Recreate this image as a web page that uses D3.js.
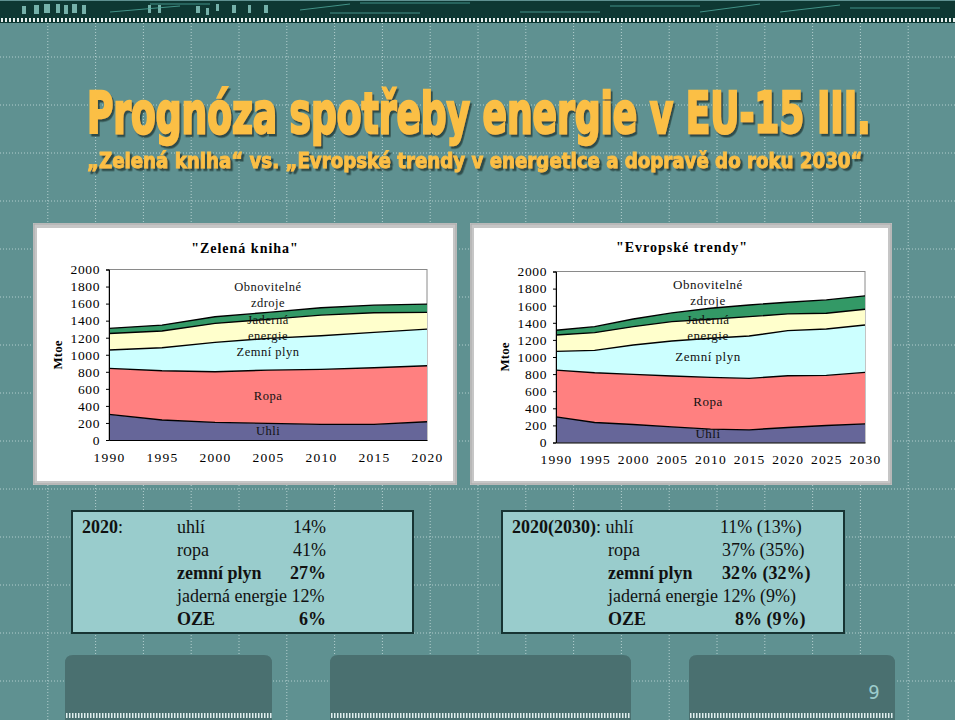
<!DOCTYPE html>
<html><head><meta charset="utf-8">
<script src="https://cdn.jsdelivr.net/npm/d3@7/dist/d3.min.js"></script>
<style>html,body{margin:0;padding:0;background:#fff;}svg{display:block;}</style>
</head><body>
<script>
// ---------- DATA ----------
const yearsA = [1990, 1995, 2000, 2005, 2010, 2015, 2020];
const coalA = [300, 234, 207, 195, 183, 183, 214];
const oilA = [540, 578, 593, 625, 645, 665, 657];
const gasA = [215, 270, 345, 372, 395, 414, 430];
const nuclearA = [195, 196, 223, 223, 242, 230, 196];
const renewA = [59, 70, 77, 82, 86, 90, 97];

const yearsB = [1990, 1995, 2000, 2005, 2010, 2015, 2020, 2025, 2030];
const coalB = [300, 234, 211, 183, 156, 148, 176, 199, 218];
const oilB = [547, 582, 586, 594, 606, 602, 605, 586, 602];
const gasB = [219, 262, 343, 410, 457, 496, 527, 543, 555];
const nuclearB = [192, 207, 215, 227, 223, 226, 196, 184, 184];
const renewB = [55, 70, 90, 102, 128, 137, 136, 156, 156];

const yTicks = [0, 200, 400, 600, 800, 1000, 1200, 1400, 1600, 1800, 2000];
const seriesKeys = ["coal", "oil", "gas", "nuclear", "renew"];
const seriesColors = ["#666699", "#FF8080", "#CCFFFF", "#FFFFCC", "#339966"];

const titleMain = "Prognóza spotřeby energie v EU-15 III.";
const titleSub = "„Zelená kniha“ vs. „Evropské trendy v energetice a dopravě do roku 2030“";
const chartTitleA = "\"Zelená kniha\"";
const chartTitleB = "\"Evropské trendy\"";
const yAxisTitle = "Mtoe";
const areaLabels = ["Obnovitelné", "zdroje", "Jaderná", "energie", "Zemní plyn", "Ropa", "Uhli"];

const boxLabels = ["uhlí", "ropa", "zemní plyn", "jaderná energie", "OZE"];
const boxPctA = ["14%", "41%", "27%", "12%", "6%"];
const boxPctB = ["11% (13%)", "37% (35%)", "32% (32%)", "12% (9%)", "8% (9%)"];
const boxBold = [false, false, true, false, true];
const boxHeadA = "2020";
const boxHeadB = "2020(2030)";
const pageNumber = "9";

// ---------- SVG ----------
const W = 960, H = 720;
const svg = d3.select("body").append("svg").attr("width", W).attr("height", H);
const serif = "'Liberation Serif','Times New Roman',serif";

const defs = svg.append("defs");
const f = defs.append("filter").attr("id", "shadow").attr("x", "-5%").attr("y", "-20%").attr("width", "110%").attr("height", "150%");
f.append("feDropShadow").attr("dx", 2.5).attr("dy", 2.5).attr("stdDeviation", 0.4).attr("flood-color", "#2E4B49").attr("flood-opacity", 1);

// background
svg.append("rect").attr("x", 0).attr("y", 0).attr("width", 955).attr("height", H).attr("fill", "#5F9191");

// dotted grid
const grid = svg.append("g").attr("stroke", "#cfe3e3").attr("stroke-width", 1).attr("stroke-dasharray", "1,2").attr("opacity", 0.75);
d3.range(47.8, 955, 47.8).forEach(x => grid.append("line").attr("x1", x).attr("x2", x).attr("y1", 23).attr("y2", H));
d3.range(57, H, 48).forEach(y => grid.append("line").attr("x1", 0).attr("x2", 955).attr("y1", y).attr("y2", y));

// top strip
svg.append("rect").attr("x", 0).attr("y", 1).attr("width", 955).attr("height", 22).attr("fill", "#0E3833");
const deco = svg.append("g").attr("fill", "#8fd0c8").attr("opacity", 0.8);
[[22,6,4,8],[34,5,5,9],[44,4,6,9],[56,4,4,9],[64,5,4,9],[72,4,5,9],[82,5,4,9],[148,5,3,8],[158,5,3,8],[196,6,4,7],[206,8,3,7],[216,4,3,7],[232,5,4,8],[248,5,3,8],[264,5,4,8]].forEach(d =>
  deco.append("rect").attr("x", d[0]).attr("y", d[1]).attr("width", d[2]).attr("height", d[3]));
const decoL = svg.append("g").attr("stroke", "#4fa89c").attr("stroke-width", 1).attr("fill", "none").attr("opacity", 0.8);
[[110,12,180,6],[150,4,210,4],[300,10,350,4],[330,13,420,13],[360,3,470,3],[520,12,600,12],[610,6,700,6],[700,12,760,4],[780,12,840,5],[850,8,940,8]].forEach(d =>
  decoL.append("line").attr("x1", d[0]).attr("y1", d[1]).attr("x2", d[2]).attr("y2", d[3]));
const perf = svg.append("g").attr("fill", "#e8f0ee");
d3.range(1, 955, 4).forEach(x => perf.append("rect").attr("x", x).attr("y", 18).attr("width", 2).attr("height", 4));

// titles: condensed by horizontal scaling to the measured width
function shadowText(txt, x, y, size, len) {
  const t = svg.append("text").attr("x", 0).attr("y", 0)
    .attr("font-family", "'Liberation Sans Narrow','DejaVu Sans Condensed','Arial Narrow',sans-serif")
    .attr("font-weight", "bold").attr("font-size", size)
    .attr("fill", "#FBBF45").attr("stroke", "#FBBF45").attr("stroke-width", size * 0.04)
    .attr("filter", "url(#shadow)").text(txt);
  const w = t.node().getComputedTextLength();
  t.attr("transform", `translate(${x},${y}) scale(${len / w},1)`);
}
shadowText(titleMain, 87, 133, 57, 784);
shadowText(titleSub, 87, 168, 20.5, 776);

// ---------- CHART PANELS ----------
function panel(x0, y0, x1, y1) {
  svg.append("rect").attr("x", x0).attr("y", y0).attr("width", x1 - x0).attr("height", y1 - y0).attr("fill", "#C6C6C6");
  svg.append("rect").attr("x", x0 + 1).attr("y", y0 + 1).attr("width", x1 - x0 - 2).attr("height", y1 - y0 - 2).attr("fill", "none").attr("stroke", "#a9a9a9");
  svg.append("rect").attr("x", x0 + 4).attr("y", y0 + 5).attr("width", x1 - x0 - 8).attr("height", y1 - y0 - 9).attr("fill", "#fff");
}
panel(33, 223, 457, 485);
panel(470, 223, 892, 485);

function drawChart(cfg) {
  const data = cfg.years.map((yr, i) => ({
    year: yr, coal: cfg.coal[i], oil: cfg.oil[i], gas: cfg.gas[i], nuclear: cfg.nuclear[i], renew: cfg.renew[i]
  }));
  const stack = d3.stack().keys(seriesKeys)(data);
  const x = d3.scaleLinear().domain([cfg.years[0], cfg.years[cfg.years.length - 1]]).range([cfg.left, cfg.right]);
  const y = d3.scaleLinear().domain([0, 2000]).range([cfg.bottom, cfg.top]);
  const g = svg.append("g");

  g.append("rect").attr("x", cfg.left).attr("y", cfg.top).attr("width", cfg.right - cfg.left).attr("height", cfg.bottom - cfg.top)
    .attr("fill", "#fff").attr("stroke", "#8a8a8a").attr("stroke-width", 1);

  const area = d3.area().x(d => x(d.data.year)).y0(d => y(d[0])).y1(d => y(d[1]));
  const line = d3.line().x(d => x(d.data.year)).y(d => y(d[1]));
  g.selectAll("path.area").data(stack).join("path").attr("class", "area")
    .attr("d", area).attr("fill", (d, i) => seriesColors[i]);
  g.selectAll("path.edge").data(stack).join("path").attr("class", "edge")
    .attr("d", line).attr("fill", "none").attr("stroke", "#000").attr("stroke-width", 1.4);

  // axes
  const ya = g.append("g").attr("transform", `translate(${cfg.left},0)`)
    .call(d3.axisLeft(y).tickValues(yTicks).tickSize(3).tickPadding(6).tickFormat(d3.format("d")));
  ya.select(".domain").attr("stroke", "#000");
  ya.selectAll(".tick line").attr("stroke", "#000");
  ya.selectAll("text").attr("font-family", serif).attr("font-size", 13.5).attr("fill", "#000").attr("letter-spacing", 0.6);

  const xa = g.append("g").attr("transform", `translate(0,${cfg.bottom})`)
    .call(d3.axisBottom(x).tickValues(cfg.years).tickSize(0).tickPadding(12).tickFormat(d3.format("d")));
  xa.select(".domain").attr("stroke", "#000");
  xa.selectAll("text").attr("font-family", serif).attr("font-size", 13.5).attr("fill", "#000").attr("letter-spacing", 1.2);

  // titles
  g.append("text").attr("x", cfg.titleX).attr("y", cfg.titleY).attr("text-anchor", "middle")
    .attr("font-family", serif).attr("font-weight", "bold").attr("font-size", 14).attr("letter-spacing", 1)
    .text(cfg.title);
  g.append("text").attr("transform", `translate(${cfg.mtoeX},${cfg.mtoeY}) rotate(-90)`).attr("text-anchor", "middle")
    .attr("font-family", serif).attr("font-weight", "bold").attr("font-size", 13).text(yAxisTitle);

  // area labels
  areaLabels.forEach((t, i) => {
    g.append("text").attr("x", cfg.labelX).attr("y", cfg.labelY[i]).attr("text-anchor", "middle").attr("dominant-baseline", "middle")
      .attr("font-family", serif).attr("font-size", cfg.labelSize).attr("letter-spacing", 0.5).attr("fill", "#111").text(t);
  });
}

drawChart({
  years: yearsA, coal: coalA, oil: oilA, gas: gasA, nuclear: nuclearA, renew: renewA,
  left: 109, right: 427, top: 269.5, bottom: 440,
  title: chartTitleA, titleX: 245, titleY: 253, mtoeX: 62, mtoeY: 355,
  labelX: 268, labelY: [288, 304, 321, 337, 353, 397, 432], labelSize: 12.5
});
drawChart({
  years: yearsB, coal: coalB, oil: oilB, gas: gasB, nuclear: nuclearB, renew: renewB,
  left: 556, right: 865, top: 271.5, bottom: 442.5,
  title: chartTitleB, titleX: 682, titleY: 252, mtoeX: 509, mtoeY: 357,
  labelX: 708, labelY: [286, 302, 321, 337, 358, 403, 435], labelSize: 13
});

// ---------- TEXT BOXES ----------
function box(x0, y0, x1, y1) {
  svg.append("rect").attr("x", x0).attr("y", y0).attr("width", x1 - x0).attr("height", y1 - y0)
    .attr("fill", "#99CCCC").attr("stroke", "#173433").attr("stroke-width", 2);
}
box(72, 511, 413, 633);
box(502, 511, 844, 633);
const rowY = [533, 556, 579, 602, 625];
const fs = 18;
function txt(x, y, s, bold, anchor) {
  return svg.append("text").attr("x", x).attr("y", y).attr("font-family", serif).attr("font-size", fs)
    .attr("font-weight", bold ? "bold" : "normal").attr("text-anchor", anchor || "start").attr("fill", "#111").text(s);
}
// left box
const hA = svg.append("text").attr("x", 82).attr("y", rowY[0]).attr("font-family", serif).attr("font-size", fs).attr("fill", "#111");
hA.append("tspan").attr("font-weight", "bold").text(boxHeadA);
hA.append("tspan").text(":");
boxLabels.forEach((l, i) => {
  if (i === 3) {
    txt(177, rowY[i], l + " " + boxPctA[i], false);
  } else {
    txt(177, rowY[i], l, boxBold[i]);
    txt(326, rowY[i], boxPctA[i], boxBold[i], "end");
  }
});
// right box
const hB = svg.append("text").attr("x", 512).attr("y", rowY[0]).attr("font-family", serif).attr("font-size", fs).attr("fill", "#111");
hB.append("tspan").attr("font-weight", "bold").text(boxHeadB);
hB.append("tspan").text(": " + boxLabels[0]);
const pctXB = [720, 722, 722, 0, 735];
boxLabels.forEach((l, i) => {
  if (i === 0) {
    txt(pctXB[i], rowY[i], boxPctB[i], false);
  } else if (i === 3) {
    txt(608, rowY[i], l + " " + boxPctB[i], false);
  } else {
    txt(608, rowY[i], l, boxBold[i]);
    txt(pctXB[i], rowY[i], boxPctB[i], boxBold[i]);
  }
});

// ---------- BOTTOM SHAPES ----------
[[65, 272], [330, 631], [689, 895]].forEach(s => {
  svg.append("path").attr("d", `M${s[0]},720 V663 Q${s[0]},655 ${s[0] + 8},655 H${s[1] - 8} Q${s[1]},655 ${s[1]},663 V720 Z`).attr("fill", "#4A7070");
  const p = svg.append("g").attr("fill", "#dfeeee");
  d3.range(s[0] + 1, s[1] - 1, 3).forEach(x => p.append("rect").attr("x", x).attr("y", 713).attr("width", 1.5).attr("height", 5));
});
svg.append("text").attr("x", 874).attr("y", 699).attr("text-anchor", "middle").attr("font-family", "'Liberation Sans Narrow','DejaVu Sans Condensed',sans-serif")
  .attr("font-size", 20).attr("fill", "#9CCCCC").text(pageNumber);
</script>
</body></html>
